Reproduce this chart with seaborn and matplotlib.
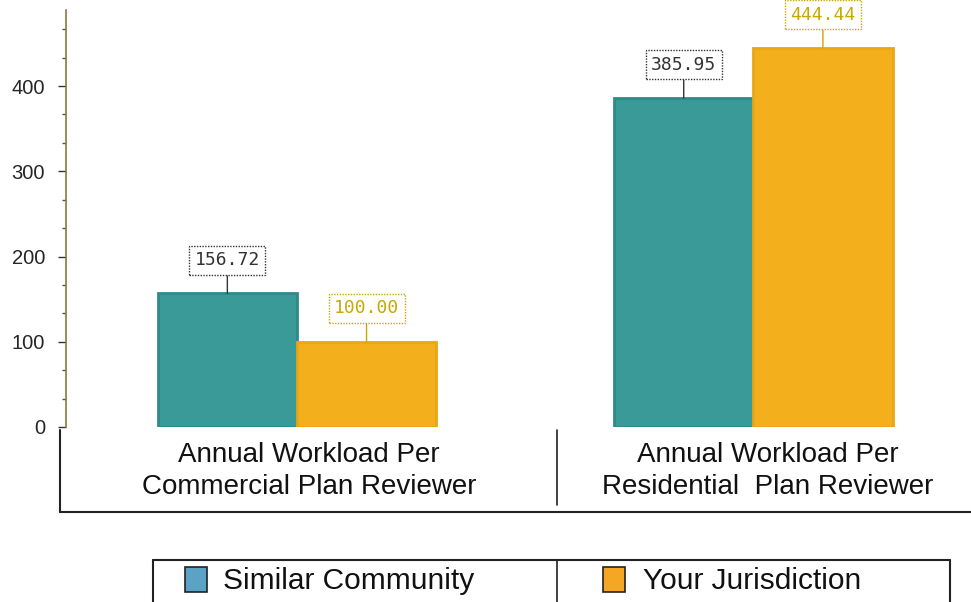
import matplotlib
matplotlib.use("Agg")
import matplotlib.pyplot as plt
from matplotlib.ticker import MultipleLocator
from matplotlib.patches import Rectangle
from matplotlib.lines import Line2D
import pandas as pd
import seaborn as sns

categories = ["Annual Workload Per\nCommercial Plan Reviewer",
              "Annual Workload Per\nResidential  Plan Reviewer"]
series_names = ["Similar Community", "Your Jurisdiction"]
similar_values = [156.72, 385.95]
your_values = [100.00, 444.44]
y_ticks = [0, 100, 200, 300, 400]

bar_colors = {"Similar Community": "#3a9a98", "Your Jurisdiction": "#f4b01c"}
edge_colors = {"Similar Community": "#31898a", "Your Jurisdiction": "#eaa614"}
legend_colors = {"Similar Community": "#5aa3c6", "Your Jurisdiction": "#f5a623"}
label_colors = {"Similar Community": "#333333", "Your Jurisdiction": "#c9a800"}

df = pd.DataFrame({
    "category": categories * 2,
    "series": [series_names[0]] * 2 + [series_names[1]] * 2,
    "value": similar_values + your_values,
})

sns.set_style("white")
plt.rcParams["font.family"] = ["Liberation Sans", "DejaVu Sans"]

fig = plt.figure(figsize=(9.71, 6.02), dpi=100)
ax = fig.add_axes([0.068, 0.2907, 0.932, 0.6923])

sns.barplot(data=df, x="category", y="value", hue="series", order=categories,
            hue_order=series_names, palette=bar_colors, width=0.61,
            saturation=1, legend=False, ax=ax)

for container, name in zip(ax.containers, series_names):
    for rect in container:
        rect.set_edgecolor(edge_colors[name])
        rect.set_linewidth(2)
        h = rect.get_height()
        cx = rect.get_x() + rect.get_width() / 2
        ax.annotate(f"{h:.2f}", xy=(cx, h), xytext=(0, 24),
                    textcoords="offset points", ha="center", va="center",
                    fontsize=13, family="DejaVu Sans Mono",
                    color=label_colors[name],
                    bbox=dict(boxstyle="square,pad=0.3", fc="white",
                              ec=label_colors[name], ls=(0, (1, 1)), lw=1),
                    arrowprops=dict(arrowstyle="-", color=label_colors[name],
                                    lw=1, shrinkA=0, shrinkB=0),
                    annotation_clip=False)

ax.set_xlim(-0.506, 1.477)
ax.set_ylim(0, 489)
ax.set_yticks(y_ticks)
ax.yaxis.set_minor_locator(MultipleLocator(100 / 3))
ax.tick_params(axis="y", which="major", direction="out", length=6,
               width=1, color="#333333", labelsize=14.5, pad=9,
               left=True)
ax.tick_params(axis="y", which="minor", direction="out", length=3,
               width=1, color="#555555", left=True)
ax.set_xticks([])
ax.set_xlabel("")
ax.set_ylabel("")
for side in ["top", "right", "bottom"]:
    ax.spines[side].set_visible(False)
ax.spines["left"].set_color("#8a7a40")
ax.spines["left"].set_linewidth(1.2)

# category table below the axis
W, H = 971.0, 602.0
def fx(px):
    return px / W
def fy(py):
    return 1 - py / H

fig.add_artist(Line2D([fx(60), fx(60)], [fy(430), fy(512)], color="#222222", lw=1.5))
fig.add_artist(Line2D([fx(60), fx(971)], [fy(512), fy(512)], color="#222222", lw=1.5))
fig.add_artist(Line2D([fx(557), fx(557)], [fy(430), fy(505)], color="#222222", lw=1.2))
for label, cx in [(categories[0], 309), (categories[1], 768)]:
    for line, ly in zip(label.split("\n"), [455, 487]):
        fig.text(fx(cx), fy(ly), line, ha="center", va="center",
                 fontsize=20, color="#111111")

# legend box
fig.add_artist(Line2D([fx(153), fx(950)], [fy(560), fy(560)], color="#222222", lw=1.5))
fig.add_artist(Line2D([fx(153), fx(153)], [fy(560), fy(602)], color="#222222", lw=1.5))
fig.add_artist(Line2D([fx(950), fx(950)], [fy(560), fy(602)], color="#222222", lw=1.5))
fig.add_artist(Line2D([fx(557), fx(557)], [fy(560), fy(602)], color="#222222", lw=1.2))
for name, px0, tx in [(series_names[0], 185, 223), (series_names[1], 603, 643)]:
    fig.add_artist(Rectangle((fx(px0), fy(592)), 22 / W, 25 / H,
                             transform=fig.transFigure,
                             fc=legend_colors[name], ec="#222222", lw=1.2))
    fig.text(fx(tx), fy(581), name, ha="left", va="center", fontsize=21.5,
             color="#111111")

fig.savefig("out.png", dpi=100)
